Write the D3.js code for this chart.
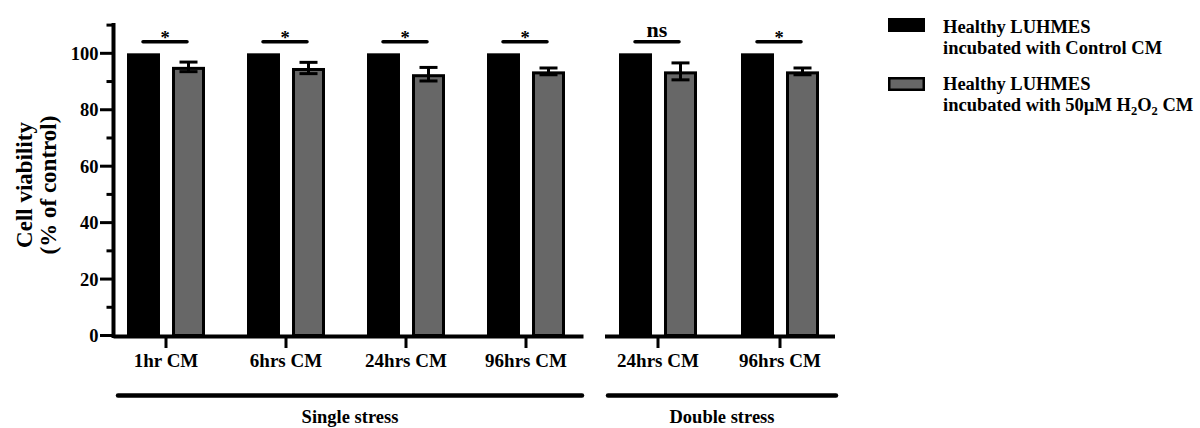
<!DOCTYPE html>
<html>
<head>
<meta charset="utf-8">
<script src="https://cdn.jsdelivr.net/npm/d3@7"></script>
<style>
  html, body { margin: 0; padding: 0; background: #fff; }
  svg { display: block; }
  text { font-family: "Liberation Serif", "Times New Roman", serif; font-weight: bold; fill: #000; }
</style>
</head>
<body>
<svg id="chart" width="1200" height="428"></svg>
<script>
// ---------- data ----------
const singleCategories = ["1hr CM", "6hrs CM", "24hrs CM", "96hrs CM"];
const doubleCategories = ["24hrs CM", "96hrs CM"];
const controlSingle = [100, 100, 100, 100];
const controlDouble = [100, 100];
const h2o2Single = [95.2, 94.8, 92.6, 93.6];
const h2o2Double = [93.6, 93.6];
const h2o2SingleErr = [1.7, 2.0, 2.4, 1.2];
const h2o2DoubleErr = [3.0, 1.2];
const sigSingle = ["*", "*", "*", "*"];
const sigDouble = ["ns", "*"];
const panelLabels = ["Single stress", "Double stress"];
const seriesNames = ["ctrl", "h2o2"];
const yTicks = [0, 20, 40, 60, 80, 100];
const yMinorTicks = [10, 30, 50, 70, 90, 110];

// ---------- layout ----------
const svg = d3.select("#chart");
const axisX = 113.5;
const y = d3.scaleLinear().domain([0, 110]).range([335.5, 25.1]);

const xSingle = d3.scaleBand().domain(singleCategories).range([106, 586]);
const xDouble = d3.scaleBand().domain(doubleCategories.map((d, i) => "D" + i)).range([597, 841]);
const xSub = d3.scaleBand().domain(seriesNames).range([-39, 39]).paddingInner(0.267);

const grey = "#676767";

// ---------- y axis ----------
const yAxis = svg.append("g");
yAxis.append("line")
  .attr("x1", axisX).attr("x2", axisX)
  .attr("y1", y(110) - 2).attr("y2", y(0) + 2.5)
  .attr("stroke", "#000").attr("stroke-width", 4);
yAxis.selectAll("line.major").data(yTicks).enter().append("line")
  .attr("class", "major")
  .attr("x1", 100).attr("x2", axisX)
  .attr("y1", d => y(d)).attr("y2", d => y(d))
  .attr("stroke", "#000").attr("stroke-width", 3);
yAxis.selectAll("line.minor").data(yMinorTicks).enter().append("line")
  .attr("class", "minor")
  .attr("x1", 106.5).attr("x2", axisX)
  .attr("y1", d => y(d)).attr("y2", d => y(d))
  .attr("stroke", "#000").attr("stroke-width", 3);
yAxis.selectAll("text").data(yTicks).enter().append("text")
  .attr("x", 98.5).attr("y", d => y(d))
  .attr("dy", "0.35em")
  .attr("text-anchor", "end")
  .attr("font-size", 18.5)
  .text(d => d);

// y title
const yTitle = svg.append("text")
  .attr("transform", "translate(0,185) rotate(-90)")
  .attr("text-anchor", "middle")
  .attr("font-size", 23);
yTitle.append("tspan").attr("x", 0).attr("y", 32).text("Cell viability");
yTitle.append("tspan").attr("x", 0).attr("y", 56).text("(% of control)");

// ---------- panels ----------
function drawPanel(xScale, keys, labels, ctrl, vals, errs, sigs, lineX0, lineX1, groupX0, groupX1, panelLabel) {
  const g = svg.append("g");
  const centers = keys.map(k => xScale(k) + xScale.bandwidth() / 2);

  // control bars
  g.selectAll("rect.ctrl").data(ctrl).enter().append("rect")
    .attr("class", "ctrl")
    .attr("x", (d, i) => centers[i] + xSub("ctrl"))
    .attr("width", xSub.bandwidth())
    .attr("y", d => y(d))
    .attr("height", d => y(0) - y(d))
    .attr("fill", "#000");

  // treated bars
  g.selectAll("rect.h2o2").data(vals).enter().append("rect")
    .attr("class", "h2o2")
    .attr("x", (d, i) => centers[i] + xSub("h2o2") + 1.5)
    .attr("width", xSub.bandwidth() - 3)
    .attr("y", d => y(d) + 1.5)
    .attr("height", d => y(0) - y(d) - 1.5)
    .attr("fill", grey)
    .attr("stroke", "#000").attr("stroke-width", 3);

  // error bars
  vals.forEach((v, i) => {
    const cx = centers[i] + xSub("h2o2") + xSub.bandwidth() / 2;
    const e = errs[i];
    g.append("line").attr("x1", cx).attr("x2", cx)
      .attr("y1", y(v + e)).attr("y2", y(v - e))
      .attr("stroke", "#000").attr("stroke-width", 3);
    [v + e, v - e].forEach(t => {
      g.append("line").attr("x1", cx - 9).attr("x2", cx + 9)
        .attr("y1", y(t)).attr("y2", y(t))
        .attr("stroke", "#000").attr("stroke-width", 3);
    });
  });

  // x axis segment
  g.append("line").attr("x1", lineX0).attr("x2", lineX1)
    .attr("y1", y(0) + 1).attr("y2", y(0) + 1)
    .attr("stroke", "#000").attr("stroke-width", 4);
  g.selectAll("line.tick").data(centers).enter().append("line")
    .attr("class", "tick")
    .attr("x1", d => d).attr("x2", d => d)
    .attr("y1", y(0) + 1).attr("y2", 348)
    .attr("stroke", "#000").attr("stroke-width", 3);
  g.selectAll("text.cat").data(labels).enter().append("text")
    .attr("class", "cat")
    .attr("x", (d, i) => centers[i]).attr("y", 367)
    .attr("text-anchor", "middle")
    .attr("font-size", 19)
    .text(d => d);

  // significance
  centers.forEach((c, i) => {
    g.append("line").attr("x1", c - 23).attr("x2", c + 21)
      .attr("y1", 41.7).attr("y2", 41.7)
      .attr("stroke", "#000").attr("stroke-width", 3.5).attr("stroke-linecap", "round");
    const isNs = sigs[i] === "ns";
    g.append("text")
      .attr("x", c - 1).attr("y", isNs ? 36.5 : 44)
      .attr("text-anchor", "middle")
      .attr("font-size", isNs ? 22 : 18.5)
      .text(sigs[i]);
  });

  // group line and label
  g.append("line").attr("x1", groupX0).attr("x2", groupX1)
    .attr("y1", 395.5).attr("y2", 395.5)
    .attr("stroke", "#000").attr("stroke-width", 4.5).attr("stroke-linecap", "round");
  g.append("text")
    .attr("x", (groupX0 + groupX1) / 2).attr("y", 423)
    .attr("text-anchor", "middle")
    .attr("font-size", 18.5)
    .text(panelLabel);
}

drawPanel(xSingle, singleCategories, singleCategories, controlSingle, h2o2Single, h2o2SingleErr, sigSingle,
  axisX, 583.5, 118, 582, panelLabels[0]);
drawPanel(xDouble, doubleCategories.map((d, i) => "D" + i), doubleCategories, controlDouble, h2o2Double, h2o2DoubleErr, sigDouble,
  605, 835, 608, 836, panelLabels[1]);

// ---------- legend ----------
const legend = svg.append("g");
legend.append("rect").attr("x", 888).attr("y", 18).attr("width", 37).attr("height", 14).attr("fill", "#000");
legend.append("rect").attr("x", 889.25).attr("y", 78.25).attr("width", 34.5).attr("height", 11.5)
  .attr("fill", grey).attr("stroke", "#000").attr("stroke-width", 2.5);

const t1 = legend.append("text").attr("font-size", 18.5);
t1.append("tspan").attr("x", 943).attr("y", 33).text("Healthy LUHMES");
t1.append("tspan").attr("x", 943).attr("y", 53.5).text("incubated with Control CM");

const t2 = legend.append("text").attr("font-size", 18.5);
t2.append("tspan").attr("x", 943).attr("y", 90).text("Healthy LUHMES");
t2.append("tspan").attr("x", 943).attr("y", 111).text("incubated with 50µM H");
t2.append("tspan").attr("font-size", 12.5).attr("dy", 4).text("2");
t2.append("tspan").attr("dy", -4).text("O");
t2.append("tspan").attr("font-size", 12.5).attr("dy", 4).text("2");
t2.append("tspan").attr("dy", -4).text(" CM");
</script>
</body>
</html>
